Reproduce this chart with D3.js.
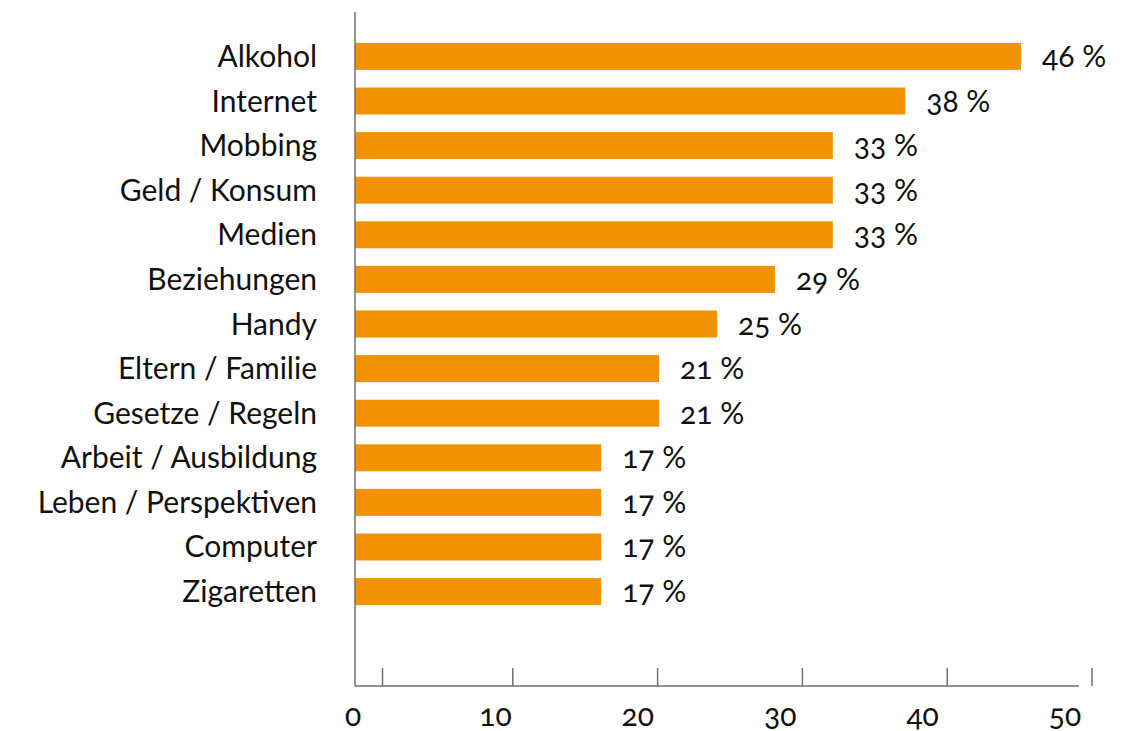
<!DOCTYPE html>
<html>
<head>
<meta charset="utf-8">
<script src="https://cdn.jsdelivr.net/npm/d3@7"></script>
<style>
  body { margin: 0; background: #fff; }
  svg text { font-family: Lato, "Noto Sans", sans-serif; fill: #111; font-feature-settings: "onum" 1; }
</style>
</head>
<body>
<div id="chart"></div>
<script>
// Categories and values (percent)
const categories = ['Alkohol', 'Internet', 'Mobbing', 'Geld / Konsum', 'Medien', 'Beziehungen',
  'Handy', 'Eltern / Familie', 'Gesetze / Regeln', 'Arbeit / Ausbildung',
  'Leben / Perspektiven', 'Computer', 'Zigaretten'];
const values = [46, 38, 33, 33, 33, 29, 25, 21, 21, 17, 17, 17, 17];
const tickLabels = [0, 10, 20, 30, 40, 50];
// tick marks in the original sit slightly right of the labels
const tickMarks = [1.9, 10.9, 20.9, 30.9, 40.9, 50.9];

const width = 1138;
const height = 731;
const margin = { top: 12, left: 355, right: 59, axisY: 686 };

const svg = d3.select('#chart')
  .append('svg')
  .attr('width', width)
  .attr('height', height);

const x = d3.scaleLinear()
  .domain([0, 50])
  .range([margin.left, width - margin.right]);

// label positions are drawn a bit left in the source
const labelX = d3.scaleLinear()
  .domain([0, 50])
  .range([353, 1065]);

const y = d3.scaleBand()
  .domain(categories)
  .range([34, 614])
  .paddingInner(0.395)
  .paddingOuter(0.2);

const data = categories.map((c, i) => ({ cat: c, val: values[i] }));

// bars
svg.selectAll('rect.bar')
  .data(data)
  .enter().append('rect')
  .attr('class', 'bar')
  .attr('x', x(0))
  .attr('y', d => y(d.cat))
  .attr('width', d => x(d.val) - x(0))
  .attr('height', y.bandwidth())
  .attr('fill', '#f39200');

// category labels
svg.selectAll('text.cat')
  .data(data)
  .enter().append('text')
  .attr('class', 'cat')
  .attr('x', 317)
  .attr('y', d => y(d.cat) + y.bandwidth() / 2)
  .attr('dy', '0.35em')
  .attr('text-anchor', 'end')
  .attr('font-size', '30px')
  .text(d => d.cat);

// value labels
svg.selectAll('text.val')
  .data(data)
  .enter().append('text')
  .attr('class', 'val')
  .attr('x', d => x(d.val) + 21)
  .attr('y', d => y(d.cat) + y.bandwidth() / 2)
  .attr('dy', '0.35em')
  .attr('font-size', '30px')
  .text(d => d.val + ' %');

// axes lines
const axisColor = '#707070';
svg.append('line')
  .attr('x1', x(0)).attr('x2', x(0))
  .attr('y1', margin.top).attr('y2', margin.axisY)
  .attr('stroke', axisColor).attr('stroke-width', 1.5);

svg.append('line')
  .attr('x1', x(0)).attr('x2', x(50))
  .attr('y1', margin.axisY).attr('y2', margin.axisY)
  .attr('stroke', axisColor).attr('stroke-width', 1.5);

svg.selectAll('line.tick')
  .data(tickMarks)
  .enter().append('line')
  .attr('class', 'tick')
  .attr('x1', d => x(d)).attr('x2', d => x(d))
  .attr('y1', margin.axisY - 18).attr('y2', margin.axisY)
  .attr('stroke', axisColor).attr('stroke-width', 1.5);

svg.selectAll('text.tickLabel')
  .data(tickLabels)
  .enter().append('text')
  .attr('class', 'tickLabel')
  .attr('x', d => labelX(d))
  .attr('y', 726)
  .attr('text-anchor', 'middle')
  .attr('font-size', '30px')
  .text(d => d);
</script>
</body>
</html>
